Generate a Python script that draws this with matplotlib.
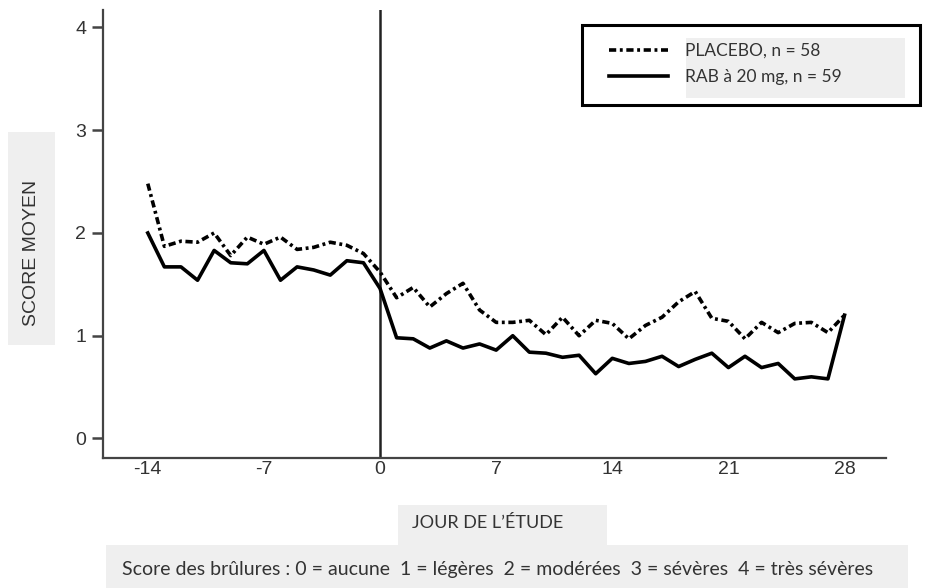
"""Score moyen des brûlures : placebo vs RAB 20 mg"""
import matplotlib
matplotlib.use("Agg")
import matplotlib.pyplot as plt
from matplotlib.patches import Rectangle

jours = list(range(-14, 29))

placebo = [2.48, 1.87, 1.92, 1.91, 2.00, 1.78, 1.96, 1.89, 1.96, 1.84, 1.86, 1.91, 1.88, 1.80,
           1.62, 1.37, 1.47, 1.28, 1.41, 1.51, 1.25, 1.13, 1.13, 1.15, 1.01, 1.18, 1.00, 1.15,
           1.12, 0.97, 1.10, 1.18, 1.33, 1.43, 1.17, 1.14, 0.97, 1.13, 1.03, 1.12, 1.13, 1.03, 1.20]

rab = [2.00, 1.67, 1.67, 1.54, 1.83, 1.71, 1.70, 1.83, 1.54, 1.67, 1.64, 1.59, 1.73, 1.71,
       1.46, 0.98, 0.97, 0.88, 0.95, 0.88, 0.92, 0.86, 1.00, 0.84, 0.83, 0.79, 0.81, 0.63,
       0.78, 0.73, 0.75, 0.80, 0.70, 0.77, 0.83, 0.69, 0.80, 0.69, 0.73, 0.58, 0.60, 0.58, 1.20]

xticks = [-14, -7, 0, 7, 14, 21, 28]
yticks = [0, 1, 2, 3, 4]

lab_placebo = "PLACEBO, n = 58"
lab_rab = "RAB à 20 mg, n = 59"

W, H = 946, 588
GRAY_BG = "#efefef"
TXT = "#333333"
AXC = "#444444"


def fx(px):
    return px / W


def fy(py):
    # pixel depuis le haut -> fraction figure
    return 1 - py / H


fig = plt.figure(figsize=(W / 100, H / 100), dpi=100, facecolor="white")
ax = fig.add_axes([fx(103), fy(458), fx(886) - fx(103), fy(10) - fy(458)])

ax.plot(jours, placebo, color="black", linewidth=2.6, dashes=(2.0, 1.0, 0.8, 1.0),
        label=lab_placebo, zorder=3)
ax.plot(jours, rab, color="black", linewidth=2.6, label=lab_rab, zorder=3)
ax.axvline(0, color="#222222", linewidth=1.8, zorder=2)

ax.set_xlim(-16.7, 30.5)
ax.set_ylim(-0.19, 4.17)
ax.set_xticks(xticks)
ax.set_xticklabels([str(t) for t in xticks], family="Liberation Sans")
ax.set_yticks(yticks)
ax.set_yticklabels([str(t) for t in yticks], family="Liberation Sans")
ax.tick_params(axis="y", length=8, width=1.8, colors=AXC, labelsize=14, labelcolor=TXT, pad=4)
ax.tick_params(axis="x", length=0, labelsize=14, labelcolor=TXT, pad=2)
for s in ("top", "right"):
    ax.spines[s].set_visible(False)
for s in ("left", "bottom"):
    ax.spines[s].set_color(AXC)
    ax.spines[s].set_linewidth(1.6)

# légende encadrée
fig.add_artist(Rectangle((fx(582), fy(105)), fx(920) - fx(582), fy(25) - fy(105),
                         transform=fig.transFigure, facecolor="white",
                         edgecolor="black", linewidth=2.2, zorder=4))
fig.add_artist(Rectangle((fx(686), fy(98)), fx(905) - fx(686), fy(38) - fy(98),
                         transform=fig.transFigure, facecolor=GRAY_BG,
                         edgecolor="none", zorder=4.5))
leg = fig.legend(loc="center left", bbox_to_anchor=(fx(593), fy(64)), frameon=False,
                 prop={"family": "Lato", "size": 12.5}, handlelength=3.4,
                 handletextpad=1.0, labelspacing=0.6, labelcolor=TXT)
leg.set_zorder(5)

# titre axe y
fig.add_artist(Rectangle((fx(8), fy(345)), fx(55) - fx(8), fy(132) - fy(345),
                         transform=fig.transFigure, facecolor=GRAY_BG, edgecolor="none"))
fig.text(fx(31), fy(253), "SCORE MOYEN", rotation=90, ha="center", va="center",
         family="Liberation Sans", fontsize=14, color=TXT)

# titre axe x + note
fig.add_artist(Rectangle((fx(398), fy(545)), fx(607) - fx(398), fy(505) - fy(545),
                         transform=fig.transFigure, facecolor=GRAY_BG, edgecolor="none"))
fig.add_artist(Rectangle((fx(106), fy(588)), fx(908) - fx(106), fy(545) - fy(588),
                         transform=fig.transFigure, facecolor=GRAY_BG, edgecolor="none"))
fig.text(fx(488), fy(523), "JOUR DE L’ÉTUDE", ha="center", va="center",
         family="Lato", fontsize=13, color=TXT)
fig.text(fx(498), fy(570),
         "Score des brûlures : 0 = aucune  1 = légères  2 = modérées  3 = sévères  4 = très sévères",
         ha="center", va="center", family="Lato", fontsize=14, color=TXT)

fig.savefig("out.png", dpi=100, facecolor="white")
